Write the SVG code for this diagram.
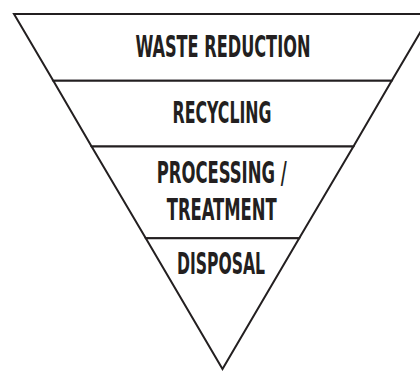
<svg xmlns="http://www.w3.org/2000/svg" width="420" height="372" viewBox="0 0 420 372">
<style>
.tier{fill:#ffffff;stroke:#231f20;stroke-width:2;stroke-linejoin:miter}
.lbl{font-family:"DejaVu Sans","Liberation Sans",sans-serif;font-weight:bold;font-stretch:condensed;font-size:30px;fill:#231f20;text-anchor:middle}
</style>
<rect width="420" height="372" fill="#ffffff"/>
<g id="tier-waste-reduction">
<polygon class="tier" points="14,14 431,14 391.7,80.7 53.3,80.7"/>
<text class="lbl" transform="scale(0.6,1)" x="371.5" y="57.3" textLength="291.7" lengthAdjust="spacingAndGlyphs">WASTE REDUCTION</text>
</g>
<g id="tier-recycling">
<polygon class="tier" points="53.3,80.7 391.7,80.7 353.4,146.5 91.6,146.5"/>
<text class="lbl" transform="scale(0.6,1)" x="370" y="123.3" textLength="165" lengthAdjust="spacingAndGlyphs">RECYCLING</text>
</g>
<g id="tier-processing">
<polygon class="tier" points="91.6,146.5 353.4,146.5 299.2,238.3 145.8,238.3"/>
<text class="lbl" transform="scale(0.6,1)" x="369.5" y="183.3" textLength="216.7" lengthAdjust="spacingAndGlyphs">PROCESSING /</text>
<text class="lbl" transform="scale(0.6,1)" x="369.5" y="220" textLength="183.3" lengthAdjust="spacingAndGlyphs">TREATMENT</text>
</g>
<g id="tier-disposal">
<polygon class="tier" points="145.8,238.3 299.2,238.3 222.5,369"/>
<text class="lbl" transform="scale(0.6,1)" x="368.3" y="274.3" textLength="146.7" lengthAdjust="spacingAndGlyphs">DISPOSAL</text>
</g>
<g id="connectors"></g>
</svg>
